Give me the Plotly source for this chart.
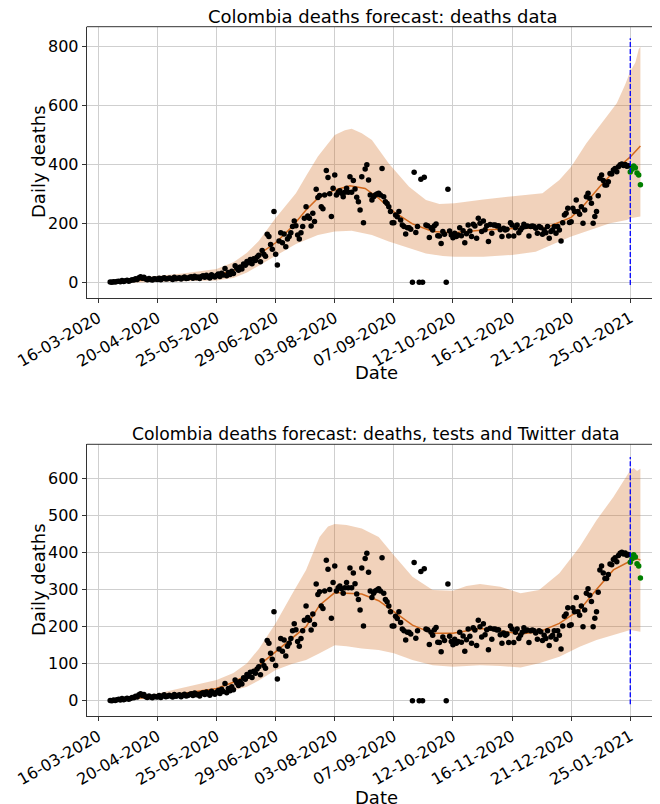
import pandas as pd
import plotly.graph_objects as go

BASE = pd.Timestamp("2020-03-16")

# observed daily deaths (black dots), one value per day starting at day offset 7
obs_start_day = 7
deaths = [
    1, 0, 2, 1, 3, 4, 2,
    6, 3, 5, 7, 4, 6, 9,
    8, 12, 10, 16, 19, 14, 17,
    11, 9, 13, 10, 8, 12, 11,
    10, 14, 9, 13, 16, 11, 12,
    15, 13, 10, 17, 12, 14, 16,
    11, 15, 18, 13, 14, 17, 19,
    14, 21, 16, 18, 13, 20, 22,
    17, 24, 19, 15, 26, 21, 18,
    23, 28, 20, 31, 25, 47, 22,
    33, 27, 38, 30, 56, 48, 41,
    52, 45, 62, 58, 71, 66, 77,
    63, 80, 74, 86, 92, 70, 108,
    95, 88, 163, 155, 128, 112, 240,
    95, 59, 140, 168, 134, 164, 121,
    147, 155, 168, 189, 208, 192, 160,
    147, 168, 189, 217, 256, 225, 217,
    191, 234, 206, 315, 287, 294, 256,
    249, 296, 379, 355, 300, 223, 319,
    364, 296, 305, 310, 302, 290, 305,
    319, 305, 358, 305, 345, 316, 288,
    273, 245, 358, 202, 384, 398, 347,
    296, 279, 290, 296, 299, 302, 296,
    386, 290, 273, 267, 256, 240, 202,
    202, 228, 222, 240, 211, 194, 189,
    164, 185, 185, 180, 0, 373, 169,
    189, 0, 349, 0, 356, 194, 192,
    152, 185, 177, 192, 198, 158, 157,
    132, 172, 163, 0, 315, 174, 160,
    151, 166, 155, 160, 185, 158, 175,
    134, 165, 194, 174, 155, 197, 191,
    149, 217, 200, 172, 208, 178, 192,
    138, 196, 166, 194, 194, 191, 192,
    178, 155, 183, 177, 180, 157, 202,
    194, 157, 185, 194, 168, 177, 185,
    197, 189, 191, 157, 189, 191, 189,
    183, 166, 189, 186, 163, 177, 168,
    189, 149, 172, 177, 189, 166, 189,
    177, 140, 202, 228, 234, 251, 203,
    205, 251, 240, 279, 240, 231, 256,
    200, 245, 290, 302, 285, 268, 200,
    223, 240, 293, 353, 364, 345, 330,
    330, 341, 369, 367, 381, 386, 375,
    392, 398, 401, 396, 399, 393, 395,
]

# held-out deaths (green dots)
test_start_day = 315
test_deaths = [374, 383, 394, 388, 370, 364, 331]

# forecast 1: deaths data
m1_days = [8, 20, 35, 50, 70, 80, 88, 95, 105, 115, 123, 130, 140, 149, 158, 166,
           175, 186, 198, 210, 228, 245, 265, 273, 280, 287, 297, 306, 315, 321]
m1_vals = [2, 6, 10, 15, 25, 40, 64, 95, 134, 190, 245, 285, 313, 327, 318, 285,
           239, 198, 172, 168, 177, 182, 185, 205, 220, 258, 325, 380, 425, 462]
u1_days = [8, 20, 35, 50, 70, 80, 88, 95, 105, 117, 123, 130, 140, 146, 150, 156, 162,
           172, 184, 194, 202, 211, 228, 245, 263, 273, 280, 289, 299, 307, 312, 315,
           318, 320, 321]
u1_vals = [8, 15, 22, 30, 45, 68, 100, 140, 218, 302, 360, 426, 499, 515, 520, 505, 482,
           403, 324, 279, 265, 268, 281, 290, 302, 347, 392, 471, 545, 607, 670, 715,
           745, 790, 798]
l1_days = [8, 20, 35, 50, 70, 80, 88, 95, 105, 117, 130, 140, 150, 162, 172, 184, 194,
           204, 211, 228, 245, 259, 273, 280, 291, 303, 313, 315, 321]
l1_vals = [-3, 0, 2, 4, 6, 15, 33, 58, 90, 130, 160, 172, 175, 160, 138, 115, 98,
           89, 87, 87, 93, 104, 138, 155, 177, 200, 211, 217, 223]

# forecast 2: deaths, tests and Twitter data
m2_days = [8, 35, 50, 70, 80, 88, 95, 105, 115, 123, 131, 140, 147, 156, 166, 175,
           186, 198, 210, 226, 238, 250, 261, 273, 285, 295, 305, 315, 319, 321]
m2_vals = [2, 11, 20, 33, 50, 69, 95, 132, 170, 200, 258, 292, 290, 288, 270, 240,
           204, 182, 182, 195, 189, 180, 186, 209, 245, 300, 353, 377, 383, 380]
u2_days = [8, 35, 50, 70, 80, 88, 95, 105, 115, 123, 131, 136, 140, 147, 156, 166, 175,
           186, 198, 210, 218, 226, 238, 250, 261, 273, 285, 295, 305, 311, 315, 317,
           319, 321]
u2_vals = [6, 20, 35, 56, 75, 101, 140, 209, 290, 353, 442, 470, 477, 474, 465, 442, 393,
           335, 299, 297, 310, 315, 308, 290, 299, 344, 415, 487, 550, 595, 622, 628,
           620, 626]
l2_days = [8, 35, 50, 70, 80, 88, 95, 105, 115, 123, 131, 140, 147, 156, 166, 175,
           186, 198, 210, 226, 238, 250, 261, 273, 285, 295, 305, 315, 321]
l2_vals = [0, 6, 10, 20, 28, 38, 55, 83, 100, 110, 128, 150, 147, 141, 137, 128,
           110, 96, 92, 96, 94, 90, 101, 119, 146, 164, 177, 191, 186]

forecast_day = 315
vline1_y = [-9, 827]
vline2_y = [-9, 658]

tick_days = [0, 35, 70, 105, 140, 175, 210, 245, 280, 315]
y1_ticks = [0, 200, 400, 600, 800]
y2_ticks = [0, 100, 200, 300, 400, 500, 600]

titles = ["Colombia deaths forecast: deaths data",
          "Colombia deaths forecast: deaths, tests and Twitter data"]


def d2t(days):
    return [BASE + pd.Timedelta(days=float(d)) for d in days]


obs_x = d2t(range(obs_start_day, obs_start_day + len(deaths)))
test_x = d2t(range(test_start_day, test_start_day + len(test_deaths)))

BAND = "rgba(210,105,30,0.3)"
LINE = "#d2691e"
FONT = "DejaVu Sans"

fig = go.Figure()

panels = [
    (m1_days, m1_vals, u1_days, u1_vals, l1_days, l1_vals, vline1_y, "x", "y"),
    (m2_days, m2_vals, u2_days, u2_vals, l2_days, l2_vals, vline2_y, "x2", "y2"),
]
for md, mv, ud, uv, ld, lv, vy, xa, ya in panels:
    fig.add_trace(go.Scatter(
        x=d2t(ud) + d2t(ld[::-1]), y=uv + lv[::-1], fill="toself",
        fillcolor=BAND, line=dict(width=0), mode="lines", hoverinfo="skip",
        xaxis=xa, yaxis=ya, showlegend=False))
    fig.add_trace(go.Scatter(
        x=d2t(md), y=mv, mode="lines", line=dict(color=LINE, width=1.5),
        xaxis=xa, yaxis=ya, showlegend=False))
    fig.add_trace(go.Scatter(
        x=obs_x, y=deaths, mode="markers", marker=dict(color="black", size=5.5),
        xaxis=xa, yaxis=ya, showlegend=False))
    fig.add_trace(go.Scatter(
        x=test_x, y=test_deaths, mode="markers", marker=dict(color="green", size=5.5),
        xaxis=xa, yaxis=ya, showlegend=False))
    fig.add_trace(go.Scatter(
        x=d2t([forecast_day, forecast_day]), y=vy, mode="lines",
        line=dict(color="blue", width=1.3, dash="5px,2px"),
        xaxis=xa, yaxis=ya, showlegend=False))

# the page body adds an 8px offset; figure coordinates are window px minus 8
OFF = 8
W, H = 660 - OFF, 804 - OFF


def px_x(v):
    return (v - OFF) / W


def px_y(v):
    return 1 - (v - OFF) / H


x_left = px_x(86.7)
dom1 = [px_y(297.7), px_y(26.7)]
dom2 = [px_y(716), px_y(444.3)]
xrange = [BASE + pd.Timedelta(days=-6.9), BASE + pd.Timedelta(days=332.6)]
tickvals = d2t(tick_days)
ticktext = [t.strftime("%d-%m-%Y") for t in tickvals]

axis_common = dict(showgrid=True, gridcolor="#cfcfcf", gridwidth=1,
                   showline=True, linecolor="#333333", linewidth=1,
                   ticks="outside", ticklen=4, tickcolor="#333333",
                   zeroline=False, tickfont=dict(size=16, color="black", family=FONT),
                   automargin=False)

fig.update_layout(
    width=W, height=H, margin=dict(l=0, r=0, t=0, b=0),
    plot_bgcolor="white", paper_bgcolor="white",
    font=dict(family=FONT, color="black"),
    xaxis=dict(domain=[x_left, 1], anchor="y", range=xrange, tickvals=tickvals,
               ticktext=ticktext, tickangle=-30, **axis_common),
    yaxis=dict(domain=dom1, anchor="x", range=[-52, 866], tickvals=y1_ticks, **axis_common),
    xaxis2=dict(domain=[x_left, 1], anchor="y2", range=xrange, tickvals=tickvals,
                ticktext=ticktext, tickangle=-30, **axis_common),
    yaxis2=dict(domain=dom2, anchor="x2", range=[-41, 692], tickvals=y2_ticks, **axis_common),
)

# top spines
for dom in (dom1, dom2):
    fig.add_shape(type="line", xref="paper", yref="paper", x0=x_left, x1=1,
                  y0=dom[1], y1=dom[1], line=dict(color="#333333", width=1))

ann = []
ann.append(dict(text=titles[0], x=px_x(383), y=px_y(16), xref="paper", yref="paper",
                showarrow=False, font=dict(size=18), xanchor="center", yanchor="middle"))
ann.append(dict(text=titles[1], x=px_x(376), y=px_y(434), xref="paper", yref="paper",
                showarrow=False, font=dict(size=17.2), xanchor="center", yanchor="middle"))
for yc in (162, 580):
    ann.append(dict(text="Daily deaths", x=px_x(38), y=px_y(yc), xref="paper", yref="paper",
                    showarrow=False, textangle=-90, font=dict(size=18),
                    xanchor="center", yanchor="middle"))
for yt in (360, 785):
    ann.append(dict(text="Date", x=px_x(376), y=px_y(yt), xref="paper", yref="paper",
                    showarrow=False, font=dict(size=18), xanchor="center", yanchor="top"))
fig.update_layout(annotations=ann)

fig.write_html("out.html")
